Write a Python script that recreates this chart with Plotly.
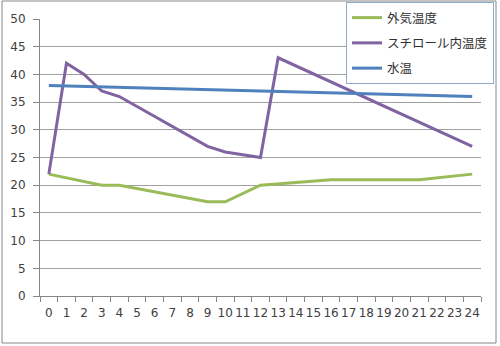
import plotly.graph_objects as go

hours = [str(h) for h in range(25)]
outside = [22, None, None, 20, 20, None, None, None, None, 17, 17, None, 20,
           None, None, None, 21, None, None, None, None, 21, None, None, 22]
styro = [22, 42, 40, 37, 36, None, None, None, None, 27, 26, None, 25,
         43, None, None, None, None, None, None, None, None, None, None, 27]
water = [38, None, None, None, None, None, None, None, None, None, None, None, None,
         None, None, None, None, None, None, None, None, None, None, None, 36]

names = ["外気温度", "スチロール内温度", "水温"]
colors = ["#9bbb59", "#8064a2", "#4f81bd"]
series = [outside, styro, water]

fig = go.Figure()
for i, (n, c, s) in enumerate(zip(names, colors, series)):
    fig.add_trace(go.Scatter(x=hours, y=s, name=n, mode="lines",
                             line=dict(color=c, width=3), connectgaps=True,
                             legendgroup=f"g{i}"))

fig.update_layout(
    width=500, height=346,
    margin=dict(l=40, r=19, t=19, b=50, autoexpand=False),
    paper_bgcolor="white", plot_bgcolor="white",
    font=dict(family="DejaVu Sans", size=12, color="#404040"),
    showlegend=True,
    legend=dict(x=(346 - 40) / 441, y=(296 - 2) / 277, xanchor="left", yanchor="top",
                bgcolor="white", bordercolor="#8eaacc", borderwidth=1,
                font=dict(family="Noto Sans CJK JP", size=12.5, color="#303030"),
                tracegroupgap=6, itemwidth=30),
    xaxis=dict(type="category", tickson="boundaries", ticks="outside", ticklen=5,
               tickcolor="#868686", showgrid=False, showline=True, linecolor="#868686",
               linewidth=1, tickangle=0, range=[-0.5, 24.5], fixedrange=True,
               ticklabelstandoff=6),
    yaxis=dict(range=[0, 50], dtick=5, ticks="outside", ticklen=6, tickcolor="#868686",
               showgrid=True, gridcolor="#a0a0a0", gridwidth=1, showline=True,
               linecolor="#868686", linewidth=1, zeroline=False, ticklabelstandoff=5),
    shapes=[dict(type="rect", xref="paper", yref="paper",
                 x0=-38 / 441, x1=456 / 441, y0=-47 / 277, y1=295 / 277,
                 line=dict(color="#868686", width=1))],
)

fig.write_html("out.html")
